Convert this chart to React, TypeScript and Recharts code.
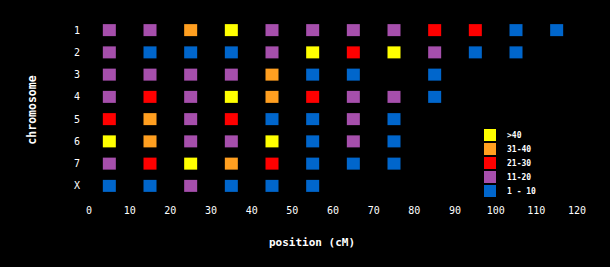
import React from 'react';
import { ScatterChart, Scatter, XAxis, YAxis } from 'recharts';

const chromosomes = ['1', '2', '3', '4', '5', '6', '7', 'X'];
const positions = [5, 15, 25, 35, 45, 55, 65, 75, 85, 95, 105, 115];
const xTicks = [0, 10, 20, 30, 40, 50, 60, 70, 80, 90, 100, 110, 120];
const bins = ['>40', '31-40', '21-30', '11-20', '1 - 10'];
const binColors = ['#ffff00', '#ff9f20', '#ff0000', '#a64fac', '#0066cc'];

// bin index per position (0: >40, 1: 31-40, 2: 21-30, 3: 11-20, 4: 1-10, null: none)
const chr1 = [3, 3, 1, 0, 3, 3, 3, 3, 2, 2, 4, 4];
const chr2 = [3, 4, 4, 4, 3, 0, 2, 0, 3, 4, 4];
const chr3 = [3, 3, 3, 3, 1, 4, 4, null, 4];
const chr4 = [3, 2, 3, 0, 1, 2, 3, 3, 4];
const chr5 = [2, 1, 3, 2, 4, 4, 3, 4];
const chr6 = [0, 1, 3, 3, 0, 4, 3, 4];
const chr7 = [3, 2, 0, 1, 2, 4, 4, 4];
const chrX = [4, 4, 3, 4, 4, 4];
const rows = [chr1, chr2, chr3, chr4, chr5, chr6, chr7, chrX];

const seriesData = bins.map((_, b) => {
  const pts: { pos: number; row: number }[] = [];
  rows.forEach((r, ri) => {
    r.forEach((v, pi) => {
      if (v === b) pts.push({ pos: positions[pi], row: ri + 1 });
    });
  });
  return pts;
});

const FONT = '"DejaVu Sans Mono", monospace';

const Square = (color: string) => (props: any) => {
  const { cx, cy } = props;
  if (cx == null || cy == null) return <g />;
  return <rect x={cx - 6.5} y={cy - 6} width={13} height={12} fill={color} />;
};

const XTick = (props: any) => {
  const { x, y, payload } = props;
  return (
    <text x={x} y={y + 5} textAnchor="middle" dominantBaseline="central" fill="#fff" fontFamily={FONT} fontSize={10}>
      {payload.value}
    </text>
  );
};

const YTick = (props: any) => {
  const { y, payload } = props;
  return (
    <text x={77} y={y} textAnchor="middle" dominantBaseline="central" fill="#fff" fontFamily={FONT} fontSize={10}>
      {chromosomes[payload.value - 1]}
    </text>
  );
};

export default function App() {
  return (
    <div style={{ position: 'absolute', left: 0, top: 0, width: 610, height: 267, background: '#000' }}>
      <ScatterChart width={610} height={267} margin={{ top: 19, right: 33, left: 0, bottom: 0 }}>
        <XAxis
          type="number"
          dataKey="pos"
          domain={[0, 120]}
          ticks={xTicks}
          axisLine={false}
          tickLine={false}
          height={70}
          tick={XTick}
          interval={0}
          label={{
            content: () => (
              <text x={312} y={242} textAnchor="middle" dominantBaseline="central" fill="#fff" fontFamily={FONT} fontSize={11} fontWeight="bold">
                position (cM)
              </text>
            ),
          }}
        />
        <YAxis
          type="number"
          dataKey="row"
          domain={[0.5, 8.5]}
          ticks={[1, 2, 3, 4, 5, 6, 7, 8]}
          reversed
          axisLine={false}
          tickLine={false}
          width={89}
          tick={YTick}
          interval={0}
          label={{
            content: () => (
              <text x={32} y={110} transform="rotate(-90 32 110)" textAnchor="middle" dominantBaseline="central" fill="#fff" fontFamily={FONT} fontSize={11.5} fontWeight="bold">
                chromosome
              </text>
            ),
          }}
        />
        {bins.map((b, i) => (
          <Scatter key={b} name={b} data={seriesData[i]} fill={binColors[i]} shape={Square(binColors[i])} isAnimationActive={false} />
        ))}
      </ScatterChart>
      <svg width={110} height={75} style={{ position: 'absolute', left: 484, top: 129 }}>
        {bins.map((b, i) => (
          <g key={b}>
            <rect x={0} y={i * 14} width={12} height={12} fill={binColors[i]} />
            <text x={23} y={i * 14 + 6} dominantBaseline="central" fill="#fff" fontFamily={FONT} fontSize={8} fontWeight="bold">
              {b}
            </text>
          </g>
        ))}
      </svg>
    </div>
  );
}
